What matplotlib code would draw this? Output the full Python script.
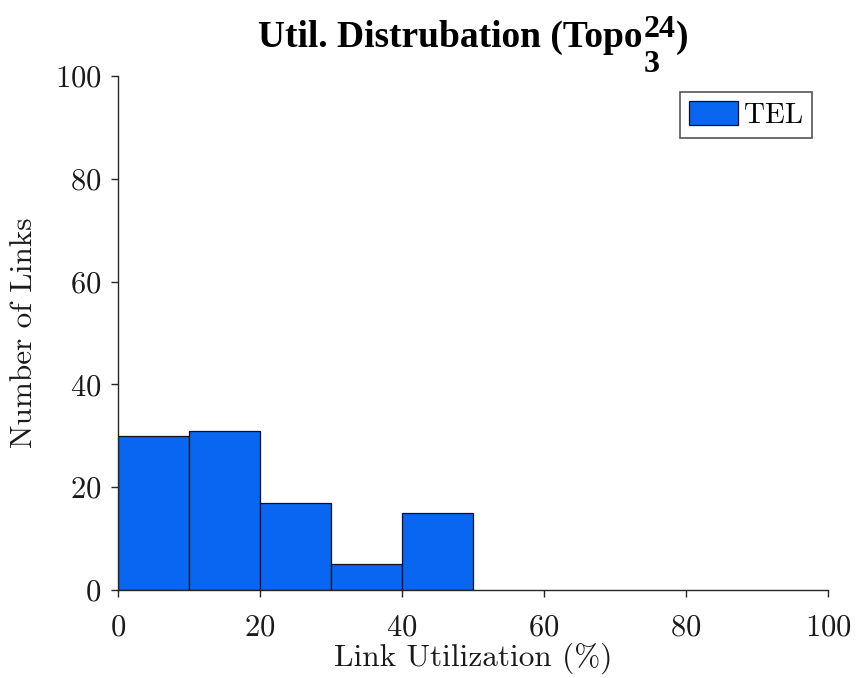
import matplotlib
matplotlib.use('Agg')
import matplotlib.pyplot as plt
from matplotlib.transforms import IdentityTransform

# histogram counts per 10% utilization bin
bin_edges = [0, 10, 20, 30, 40, 50]
link_counts = [30, 31, 17, 5, 15]
x_ticks = [0, 20, 40, 60, 80, 100]
y_ticks = [0, 20, 40, 60, 80, 100]

plt.rcParams['font.family'] = ['cmr10', 'DejaVu Serif']
plt.rcParams['axes.formatter.use_mathtext'] = True

fig = plt.figure(figsize=(8.56, 6.78), dpi=100)
ax = fig.add_axes([0.1379, 0.1298, 0.8294, 0.7581])

ax.hist(bin_edges[:-1], bins=bin_edges, weights=link_counts,
        color='#0866F0', edgecolor='#101020', linewidth=0.9, label='TEL')

ax.set_xlim(0, 100)
ax.set_ylim(0, 100)
ax.set_xticks(x_ticks)
ax.set_yticks(y_ticks)
ax.tick_params(direction='out', length=5, width=1, labelsize=22, color='#262626',
               labelcolor='#1a1a1a')
ax.tick_params(axis='x', pad=12)
ax.tick_params(axis='y', pad=7)
for side in ['top', 'right']:
    ax.spines[side].set_visible(False)
for side in ['left', 'bottom']:
    ax.spines[side].set_color('#262626')
    ax.spines[side].set_linewidth(1)

ax.set_xlabel('Link Utilization (%)', fontsize=22.5, color='#1a1a1a', labelpad=1)
ax.set_ylabel('Number of Links', fontsize=22.5, color='#1a1a1a', labelpad=12)

leg = ax.legend(loc='upper right', fontsize=21, fancybox=False, framealpha=1,
                edgecolor='#555555', handlelength=1.7, handleheight=0.9,
                handletextpad=0.2, borderpad=0.3, borderaxespad=0.55)
leg.get_frame().set_linewidth(1.2)

# title with full-size sub/superscript, laid out in pixels
tkw = dict(family='Liberation Serif', fontweight='bold', color='black',
           transform=IdentityTransform(), va='baseline', ha='left')
base_y = 631
main = fig.text(0, base_y, 'Util. Distrubation (Topo', fontsize=27, **tkw)
sup = fig.text(0, base_y + 10, '24', fontsize=23, **tkw)
sub = fig.text(0, base_y - 25, '3', fontsize=23, **tkw)
close = fig.text(0, base_y, ')', fontsize=27, **tkw)

fig.canvas.draw()
r = fig.canvas.get_renderer()
w_main = main.get_window_extent(r).width
w_script = max(sup.get_window_extent(r).width, sub.get_window_extent(r).width)
w_close = close.get_window_extent(r).width
total = w_main + 1 + w_script + w_close
ax_box = ax.get_window_extent(r)
x0 = (ax_box.x0 + ax_box.x1) / 2 - total / 2
main.set_x(x0)
sup.set_x(x0 + w_main + 1)
sub.set_x(x0 + w_main + 1)
close.set_x(x0 + w_main + 1 + w_script)

fig.savefig('out.png', dpi=100)
